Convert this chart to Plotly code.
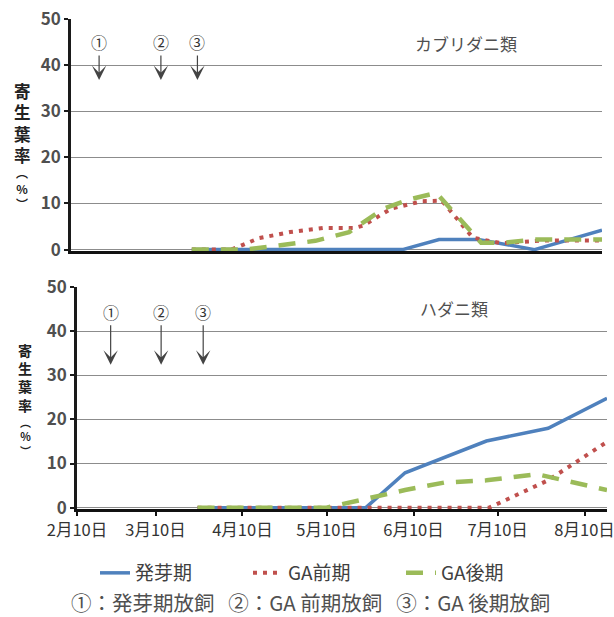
import plotly.graph_objects as go

W, H = 614, 617

series_names = ["発芽期", "GA前期", "GA後期"]

# ---- upper panel: カブリダニ類 ----
top_blue_dates = ["2013-03-25", "2013-06-08", "2013-06-21", "2013-07-05", "2013-07-25", "2013-08-18"]
top_blue_vals = [0, 0, 2.2, 2.2, 0, 4.2]
top_red_dates = ["2013-03-25", "2013-04-08", "2013-04-18", "2013-04-29", "2013-05-11", "2013-05-22",
                 "2013-05-25", "2013-06-04", "2013-06-15", "2013-06-22", "2013-07-03", "2013-07-13",
                 "2013-07-29", "2013-08-18"]
top_red_vals = [0, 0, 2.5, 3.8, 4.7, 4.7, 5.2, 8.9, 10.5, 10.6, 2.6, 1.4, 2.0, 2.0]
top_green_dates = ["2013-03-25", "2013-04-13", "2013-05-08", "2013-05-20", "2013-06-01", "2013-06-10",
                   "2013-06-20", "2013-07-06", "2013-07-14", "2013-07-25", "2013-08-18"]
top_green_vals = [0, 0, 1.9, 3.8, 8.8, 10.8, 12.3, 1.5, 1.5, 2.2, 2.2]

# ---- lower panel: ハダニ類 ----
bot_blue_dates = ["2013-03-25", "2013-05-24", "2013-06-07", "2013-07-06", "2013-07-28", "2013-08-18"]
bot_blue_vals = [0, 0, 7.9, 15.1, 18.0, 24.8]
bot_red_dates = ["2013-03-25", "2013-07-07", "2013-07-28", "2013-08-18"]
bot_red_vals = [0, 0, 6.2, 14.9]
bot_green_dates = ["2013-03-25", "2013-05-10", "2013-06-07", "2013-06-21", "2013-07-06", "2013-07-24", "2013-08-18"]
bot_green_vals = [0, 0, 4.0, 5.7, 6.2, 7.6, 4.0]

# release timing (arrows)
release_labels = ["①", "②", "③"]
top_release_dates = ["2013-02-20", "2013-03-14", "2013-03-27"]
top_release_tip = 36.8
bot_release_dates = ["2013-02-22", "2013-03-12", "2013-03-27"]
bot_release_tip = 32.4

x_tickvals = ["2013-02-10", "2013-03-10", "2013-04-10", "2013-05-10", "2013-06-10", "2013-07-10", "2013-08-10"]
x_ticktext = ["2月10日", "3月10日", "4月10日", "5月10日", "6月10日", "7月10日", "8月10日"]
y_tickvals = [0, 10, 20, 30, 40, 50]

panel_titles = ["カブリダニ類", "ハダニ類"]
y_title_main = ["寄", "生", "葉", "率"]
y_title_unit = ["︵", "%", "︶"]
footnote = "①：発芽期放飼   ②：GA 前期放飼   ③：GA 後期放飼"

x_range = ["2013-02-10", "2013-08-18"]

FONT = "Noto Sans CJK JP"
BLUE, RED, GREEN = "#4F81BD", "#C0504D", "#9BBB59"


def px(x):
    return x / W


def py(y):
    return 1 - y / H


styles = [
    dict(color=BLUE, width=3.5, dash="solid"),
    dict(color=RED, width=4, dash="4px,6px"),
    dict(color=GREEN, width=4.5, dash="17px,12px"),
]

fig = go.Figure()

top_sets = [(top_blue_dates, top_blue_vals), (top_red_dates, top_red_vals), (top_green_dates, top_green_vals)]
bot_sets = [(bot_blue_dates, bot_blue_vals), (bot_red_dates, bot_red_vals), (bot_green_dates, bot_green_vals)]

for i, (d, v) in enumerate(top_sets):
    fig.add_trace(go.Scatter(x=d, y=v, mode="lines", name=series_names[i], line=styles[i],
                             xaxis="x", yaxis="y", showlegend=False, hoverinfo="skip"))
for i, (d, v) in enumerate(bot_sets):
    fig.add_trace(go.Scatter(x=d, y=v, mode="lines", name=series_names[i], line=styles[i],
                             xaxis="x2", yaxis="y2", showlegend=True, hoverinfo="skip"))

common_y = dict(range=[-0.3, 50], tickvals=y_tickvals, showline=True, linecolor="#1a1a1a", linewidth=2.5,
                ticks="outside", ticklen=4, tickcolor="#1a1a1a", tickwidth=2,
                showgrid=True, gridcolor="#8c8c8c", gridwidth=1, zeroline=False,
                tickfont=dict(family=FONT, size=17, color="#4f4f4f", weight="bold"), layer="below traces",
                fixedrange=True, automargin=False, ticklabeloverflow="allow")

fig.update_layout(
    width=W, height=H,
    margin=dict(l=0, r=0, t=0, b=0, autoexpand=False),
    paper_bgcolor="white", plot_bgcolor="white",
    font=dict(family=FONT, color="#404040"),
    xaxis=dict(domain=[px(71), px(602)], anchor="y", type="date", range=x_range,
               showline=True, linecolor="#111", linewidth=3, showgrid=False, zeroline=False,
               showticklabels=False, ticks="", layer="below traces", automargin=False),
    yaxis=dict(domain=[py(251), py(19)], anchor="x", **common_y),
    xaxis2=dict(domain=[px(77), px(607)], anchor="y2", type="date", range=x_range,
                tickvals=x_tickvals, ticktext=x_ticktext,
                showline=True, linecolor="#111", linewidth=3, showgrid=False, zeroline=False,
                ticks="outside", ticklen=4, tickwidth=2, tickcolor="#111", automargin=False,
                ticklabeloverflow="allow",
                tickfont=dict(family=FONT, size=16.5, color="#333333"), layer="below traces"),
    yaxis2=dict(domain=[py(509), py(287)], anchor="x2", **common_y),
    legend=dict(orientation="h", x=px(95), y=py(573), xanchor="left", yanchor="middle",
                entrywidth=108, entrywidthmode="pixels",
                font=dict(family=FONT, size=19, color="#404040"), bgcolor="rgba(0,0,0,0)",
                itemclick=False, itemdoubleclick=False),
    showlegend=True,
)

ann = []
# panel titles
ann.append(dict(text=panel_titles[0], x=px(466), y=py(43), xref="paper", yref="paper",
                xanchor="center", yanchor="middle",
                showarrow=False, font=dict(family=FONT, size=17, color="#505050")))
ann.append(dict(text=panel_titles[1], x=px(454), y=py(308), xref="paper", yref="paper",
                xanchor="center", yanchor="middle",
                showarrow=False, font=dict(family=FONT, size=17, color="#505050")))
# y titles (vertical stacks)
main_txt = "<b>" + "<br>".join(y_title_main) + "</b>"
unit_txt = "<b>" + "<br>".join(y_title_unit) + "</b>"
ann.append(dict(text=main_txt, x=px(22), y=py(123), xref="paper", yref="paper",
                xanchor="center", yanchor="middle", showarrow=False,
                font=dict(family=FONT, size=16.5, color="#222")))
ann.append(dict(text=unit_txt, x=px(22), y=py(188), xref="paper", yref="paper",
                xanchor="center", yanchor="middle", showarrow=False,
                font=dict(family=FONT, size=12, color="#222")))
ann.append(dict(text=main_txt, x=px(25), y=py(377), xref="paper", yref="paper",
                xanchor="center", yanchor="middle", showarrow=False,
                font=dict(family=FONT, size=14, color="#222")))
ann.append(dict(text=unit_txt, x=px(25), y=py(436), xref="paper", yref="paper",
                xanchor="center", yanchor="middle", showarrow=False,
                font=dict(family=FONT, size=11, color="#222")))
# release arrows
for lab, d in zip(release_labels, top_release_dates):
    ann.append(dict(text=lab, x=d, y=top_release_tip, xref="x", yref="y", showarrow=True,
                    ax=0, ay=-38, arrowhead=3, arrowsize=2, arrowwidth=1.2, arrowcolor="#444",
                    font=dict(family=FONT, size=16, color="#333")))
for lab, d in zip(release_labels, bot_release_dates):
    ann.append(dict(text=lab, x=d, y=bot_release_tip, xref="x2", yref="y2", showarrow=True,
                    ax=0, ay=-53, arrowhead=3, arrowsize=2, arrowwidth=1.2, arrowcolor="#444",
                    font=dict(family=FONT, size=16, color="#333")))
# footnote
ann.append(dict(text=footnote, x=px(310), y=py(602),
                xref="paper", yref="paper", xanchor="center", yanchor="middle", showarrow=False,
                font=dict(family=FONT, size=20.5, color="#505050")))

fig.update_layout(annotations=ann)

fig.write_html("out.html", config={"displayModeBar": False},
               post_script="document.body.style.margin='0';document.body.style.overflow='hidden';")
